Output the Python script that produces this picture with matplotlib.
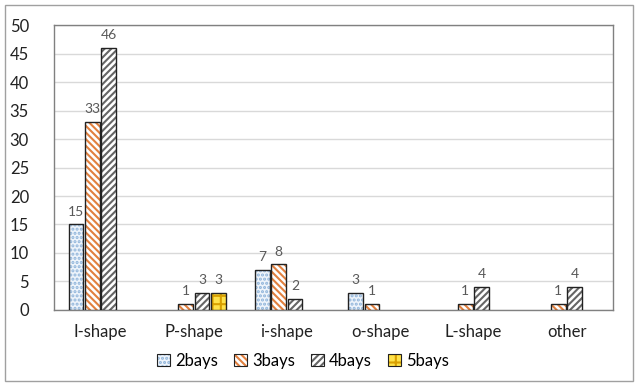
import matplotlib
matplotlib.use("Agg")
import matplotlib.pyplot as plt
import numpy as np
from matplotlib.patches import Rectangle, Patch
from matplotlib.legend_handler import HandlerTuple

categories = ["I-shape", "P-shape", "i-shape", "o-shape", "L-shape", "other"]
series_names = ["2bays", "3bays", "4bays", "5bays"]
bays2 = [15, 0, 7, 3, 0, 0]
bays3 = [33, 1, 8, 1, 1, 1]
bays4 = [46, 3, 2, 0, 4, 4]
bays5 = [0, 3, 0, 0, 0, 0]
series = [bays2, bays3, bays4, bays5]

plt.rcParams['font.family'] = ['Lato', 'DejaVu Sans']
plt.rcParams['hatch.linewidth'] = 1.5

styles = [
    dict(face="#eef4fb", hatch="....", hcolor="#8fb4da"),
    dict(face="white", hatch="\\\\\\\\\\", hcolor="#e2803e"),
    dict(face="white", hatch="/////", hcolor="#666666"),
    dict(face="#ffe24a", hatch="++", hcolor="#d9a000"),
]

fig = plt.figure(figsize=(6.38, 3.86), dpi=100)
fig.patches.append(Rectangle((0.008, 0.013), 0.984, 0.974, transform=fig.transFigure,
                             fill=False, edgecolor="#a0a0a0", linewidth=1.0))
ax = fig.add_axes([0.0846, 0.197, 0.8764, 0.738])

x = np.arange(len(categories))
w = 0.158
step = 0.175
for i, (vals, st) in enumerate(zip(series, styles)):
    pos = x + (i - 1.5) * step
    vals = np.array(vals, dtype=float)
    mask = vals > 0
    ax.bar(pos[mask], vals[mask], width=w, color=st["face"], hatch=st["hatch"],
           edgecolor=st["hcolor"], linewidth=0, zorder=3)
    ax.bar(pos[mask], vals[mask], width=w, fill=False, edgecolor="#222222", linewidth=1.0, zorder=4)
    for p, v in zip(pos[mask], vals[mask]):
        ax.text(p, v + 1.2, f"{int(v)}", ha="center", va="bottom", fontsize=10, color="#595959")

ax.set_xlim(-0.5, len(categories) - 0.5)
ax.set_ylim(0, 50)
ax.set_yticks(range(0, 51, 5))
ax.set_xticks(x)
ax.set_xticklabels(categories)
ax.tick_params(axis="both", length=0, labelsize=12, colors="#222222")
ax.tick_params(axis="x", pad=10)
ax.tick_params(axis="y", pad=18)
ax.yaxis.grid(True, color="#d9d9d9", linewidth=1.0, zorder=0)
ax.set_axisbelow(True)
for s in ax.spines.values():
    s.set_color("#808080")
    s.set_linewidth(1.0)

handles = [(Patch(facecolor=st["face"], hatch=st["hatch"], edgecolor=st["hcolor"], linewidth=0),
            Patch(fill=False, edgecolor="#222222", linewidth=0.8)) for st in styles]
leg = fig.legend(handles, series_names, loc="center", bbox_to_anchor=(0.475, 0.065), ncol=4,
                 frameon=False, fontsize=12, handlelength=0.75, handleheight=0.75,
                 handletextpad=0.3, columnspacing=1.0,
                 handler_map={tuple: HandlerTuple(ndivide=1, pad=0)})

fig.savefig("out.png", dpi=100)
